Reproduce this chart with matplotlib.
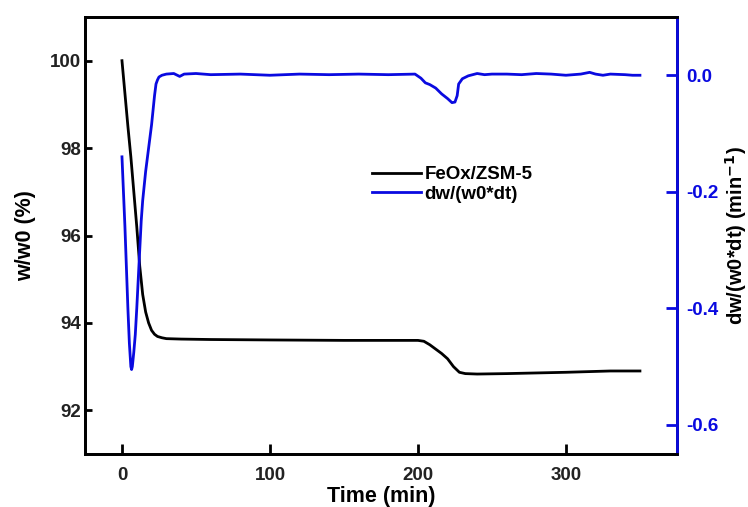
import matplotlib
matplotlib.use("Agg")
import matplotlib.pyplot as plt

plt.rcParams['font.family'] = ['Liberation Sans', 'DejaVu Sans']
plt.rcParams['font.weight'] = 'bold'
plt.rcParams['mathtext.default'] = 'bf'

# ---------------------------------------------------------
# data
# ---------------------------------------------------------
T_W = [0, 2, 4, 6, 8, 10, 12, 14, 16, 18, 20, 22, 24, 27, 30, 40, 60,
       100, 150, 200, 204, 208, 212, 216, 220, 224, 228, 232, 240, 260, 300,
       330, 350]
W_PCT = [100.0, 99.25, 98.5, 97.8, 97.0, 96.2, 95.3, 94.65, 94.25, 94.0,
         93.83, 93.74, 93.69, 93.66, 93.64, 93.63, 93.62, 93.61, 93.6, 93.6,
         93.58, 93.5, 93.4, 93.3, 93.18, 93.0, 92.87, 92.84, 92.83, 92.84,
         92.87, 92.9, 92.9]

T_D = [0, 1, 2, 3, 4, 5, 6, 6.5, 7, 8, 9, 10, 11, 12, 13, 14, 15, 16, 17, 18,
       19, 20, 21, 22, 23, 24, 25, 27, 30, 35, 39, 42, 50, 60, 80, 100, 120,
       140, 160, 180, 198, 202, 205, 208, 212, 216, 220, 223, 225, 226.5,
       227.5, 230, 234, 240, 245, 250, 260, 270, 280, 290, 300, 310, 316, 320,
       325, 330, 340, 345, 350]
DW = [-0.14, -0.2, -0.26, -0.33, -0.40, -0.46, -0.50, -0.505, -0.50, -0.475,
      -0.445, -0.40, -0.35, -0.30, -0.25, -0.215, -0.19, -0.165, -0.145,
      -0.125, -0.105, -0.085, -0.06, -0.035, -0.015, -0.008, -0.003, 0.0,
      0.002, 0.003, -0.002, 0.002, 0.003, 0.001, 0.002, 0.0, 0.002, 0.001,
      0.002, 0.001, 0.002, -0.005, -0.013, -0.016, -0.022, -0.032, -0.04,
      -0.047, -0.046, -0.035, -0.015, -0.006, -0.001, 0.003, 0.001, 0.002,
      0.002, 0.001, 0.003, 0.002, 0.0, 0.002, 0.005, 0.002, 0.0, 0.002, 0.001,
      0.0, 0.0]

X_TICKS = [0, 100, 200, 300]
Y_TICKS = [92, 94, 96, 98, 100]
Y2_TICKS = [0.0, -0.2, -0.4, -0.6]

BLUE = '#0a0ae0'

fig = plt.figure(figsize=(7.48, 5.07), dpi=100)
ax = fig.add_axes([0.1136, 0.1045, 0.7914, 0.862])
ax2 = ax.twinx()

l1, = ax.plot(T_W, W_PCT, color='black', lw=2.0, label='FeOx/ZSM-5')
l2, = ax2.plot(T_D, DW, color=BLUE, lw=2.0, label='dw/(w0*dt)')

ax.set_xlim(-25, 375)
ax.set_ylim(91, 101)
ax2.set_ylim(-0.65, 0.1)

ax.set_xticks(X_TICKS)
ax.set_yticks(Y_TICKS)
ax2.set_yticks(Y2_TICKS)
ax2.set_yticklabels([f"{v:.1f}" for v in Y2_TICKS])

for s in ax.spines.values():
    s.set_linewidth(2)
for s in ax2.spines.values():
    s.set_linewidth(2)
ax2.spines['right'].set_color(BLUE)

ax.tick_params(axis='both', direction='in', length=7, width=2,
               labelsize=13.5, labelcolor='#222222')
ax.tick_params(axis='x', pad=9)
ax.tick_params(axis='y', length=5, pad=3)
ax2.tick_params(axis='y', direction='in', length=8, width=2, colors=BLUE,
                labelsize=13.5, pad=7)

ax.set_xlabel('Time (min)', fontsize=15.5, fontweight='bold', labelpad=2)
ax.set_ylabel('w/w0 (%)', fontsize=15.5, fontweight='bold', labelpad=10)
ax2.set_ylabel('dw/(w0*dt) (min$^{-1}$)', fontsize=14.5,
               fontweight='bold', labelpad=3)

fig.legend([l1, l2], ['FeOx/ZSM-5', 'dw/(w0*dt)'], loc='upper left',
           bbox_to_anchor=(0.497, 0.672), frameon=False, fontsize=13.5,
           handlelength=2.6, handletextpad=0.2, labelspacing=0.12,
           borderpad=0, borderaxespad=0)

fig.savefig('out.png', dpi=100)
